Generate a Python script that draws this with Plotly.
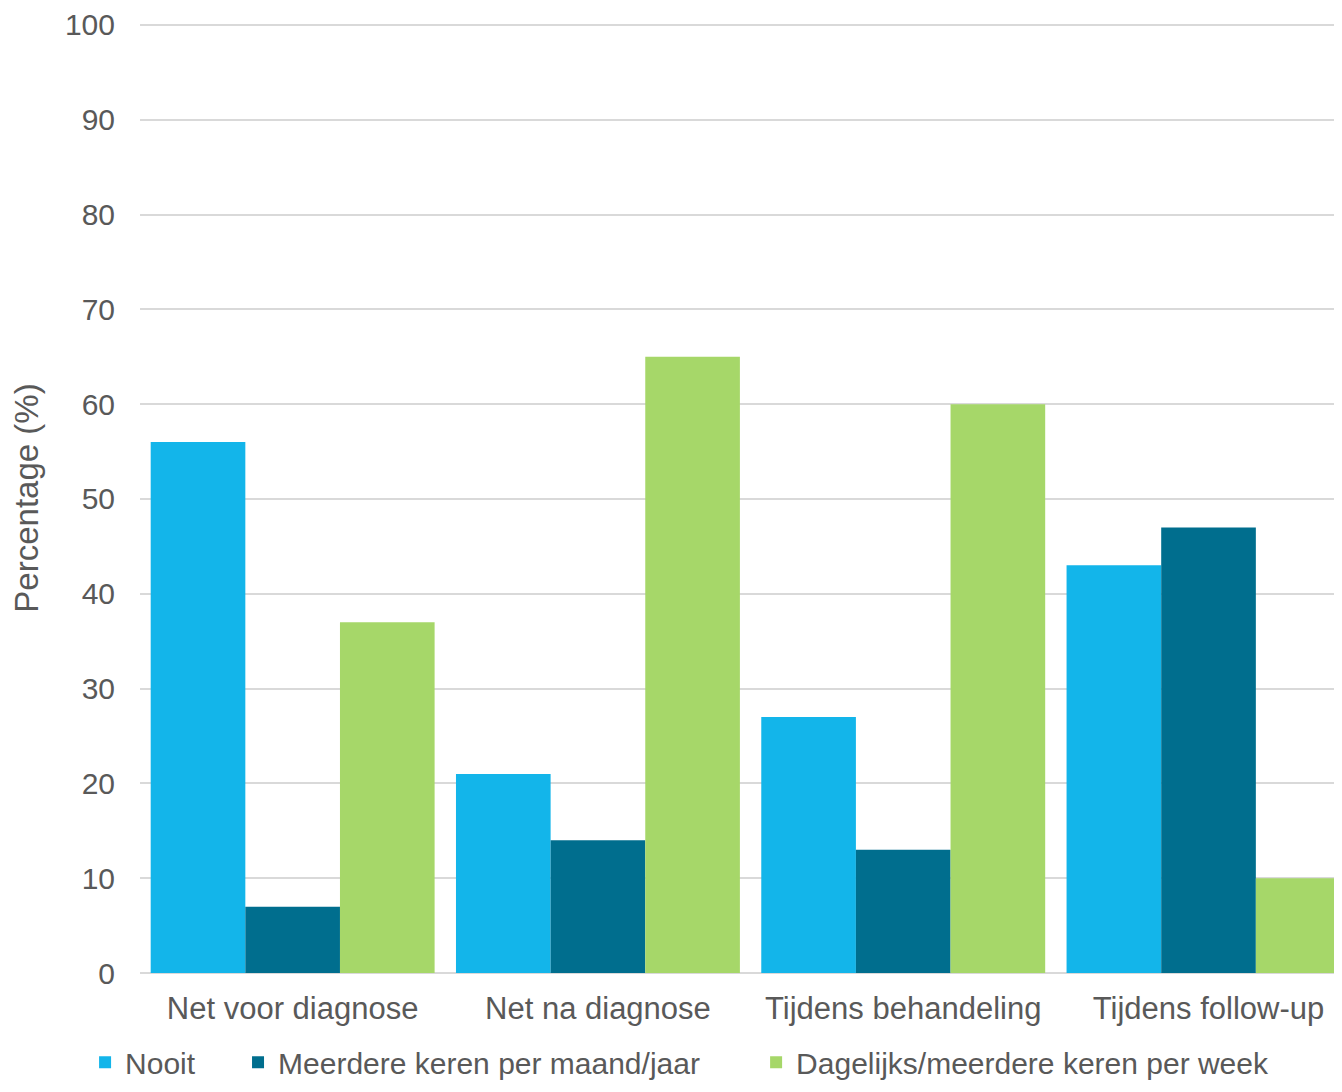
import plotly.graph_objects as go

categories = ["Net voor diagnose", "Net na diagnose", "Tijdens behandeling", "Tijdens follow-up"]
series_names = ["Nooit", "Meerdere keren per maand/jaar", "Dagelijks/meerdere keren per week"]
nooit = [56, 21, 27, 43]
meerdere = [7, 14, 13, 47]
dagelijks = [37, 65, 60, 10]
colors = ["#13B5EA", "#006E8E", "#A6D769"]
y_ticks = list(range(0, 101, 10))

legend_ids = ["legend", "legend2", "legend3"]
legend_x = [-0.046, 0.0821, 0.516]

fig = go.Figure()
for name, vals, col, lg in zip(series_names, [nooit, meerdere, dagelijks], colors, legend_ids):
    fig.add_trace(go.Bar(x=categories, y=vals, name=name, legend=lg,
                         marker=dict(color=col, line=dict(width=0))))

font_family = "Liberation Sans, Arial, sans-serif"
legend_common = dict(orientation="h", y=-0.094, yanchor="middle", xanchor="left",
                     font=dict(size=30, color="#595959", family=font_family),
                     bgcolor="rgba(0,0,0,0)")
layout_legends = {}
for lg, lx in zip(legend_ids, legend_x):
    layout_legends[lg] = dict(legend_common, x=lx)

fig.update_layout(
    width=1326, height=1076,
    margin=dict(l=132, r=0, t=15, b=111, pad=0, autoexpand=False),
    paper_bgcolor="white", plot_bgcolor="white",
    barmode="group", bargap=0.07, bargroupgap=0,
    font=dict(family=font_family, color="#595959", size=30),
    showlegend=True,
    xaxis=dict(range=[-0.5, 3.411], showgrid=False, ticks="", showline=False,
               ticklabelstandoff=14, automargin=False,
               tickfont=dict(size=31, color="#595959")),
    yaxis=dict(range=[0, 100.2], tickvals=y_ticks, showgrid=True, gridcolor="#D9D9D9", gridwidth=2,
               zeroline=True, zerolinecolor="#D9D9D9", zerolinewidth=2, automargin=False,
               ticks="", ticklabelstandoff=24, ticklabeloverflow="allow",
               tickfont=dict(size=30, color="#595959"),
               title=dict(text="Percentage (%)", font=dict(size=33, color="#595959"), standoff=27)),
    **layout_legends,
)
fig.write_html("out.html")
